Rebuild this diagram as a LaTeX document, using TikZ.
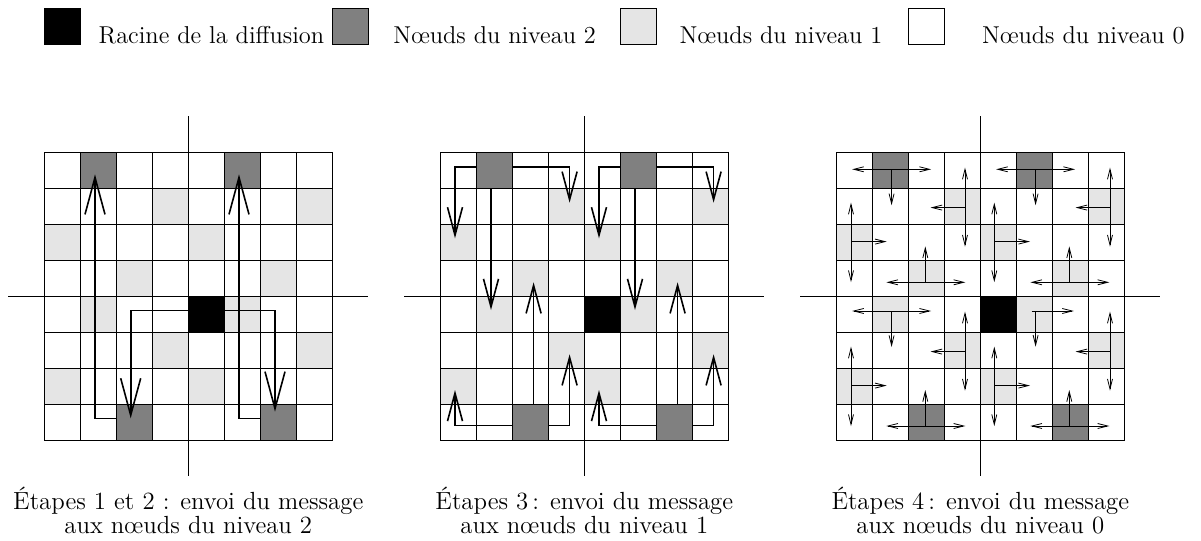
\documentclass[tikz,border=0pt]{standalone}
\usepackage{fontspec}
\usetikzlibrary{arrows.meta}

\definecolor{lvtwo}{gray}{0.5}
\definecolor{lvone}{gray}{0.9}

\tikzset{
  cell/.style={draw, line width=0.5pt, minimum size=18pt, inner sep=0pt, outer sep=0pt, fill=white},
  lvl2/.style={fill=lvtwo},
  lvl1/.style={fill=lvone},
  rootcell/.style={fill=black},
  % level of every marked cell (column-row)
  m-1-0/.style={lvl2}, m-5-0/.style={lvl2}, m-2-7/.style={lvl2}, m-6-7/.style={lvl2},
  m-3-1/.style={lvl1}, m-7-1/.style={lvl1}, m-0-2/.style={lvl1}, m-4-2/.style={lvl1},
  m-2-3/.style={lvl1}, m-6-3/.style={lvl1}, m-1-4/.style={lvl1}, m-5-4/.style={lvl1},
  m-3-5/.style={lvl1}, m-7-5/.style={lvl1}, m-0-6/.style={lvl1}, m-4-6/.style={lvl1},
  m-4-4/.style={rootcell},
  axis/.style={line width=0.8pt},
  arrA/.style={line width=0.8pt, -{Straight Barb[length=18.5pt,width=10pt]}},
  arrB/.style={line width=0.8pt, -{Straight Barb[length=14pt,width=7.5pt]}},
  arrC/.style={line width=0.4pt, -{Straight Barb[length=5pt,width=2.5pt]}},
  arrCC/.style={line width=0.4pt, {Straight Barb[length=5pt,width=2.5pt]}-{Straight Barb[length=5pt,width=2.5pt]}},
  lbl/.style={inner sep=0pt, font=\fontsize{12.2}{12.2}\selectfont},
  caption/.style={inner sep=0pt, align=center, font=\fontsize{12.4}{10.4}\selectfont},
}

\begin{document}
\begin{tikzpicture}[x=0.5pt,y=-0.5pt]
\useasboundingbox (0,0) rectangle (1201,541);

% legend
\node[cell, rootcell] (keyroot) at (62.3,26.5) {};
\node[lbl, anchor=base west] (keyroottxt) at (98.3,43.3) {Racine de la diffusion};
\node[cell, lvl2] (keytwo) at (350,26.5) {};
\node[lbl, anchor=base west] (keytwotxt) at (393,43.3) {Nœuds du niveau 2};
\node[cell, lvl1] (keyone) at (638.9,26.5) {};
\node[lbl, anchor=base west] (keyonetxt) at (679.3,43.3) {Nœuds du niveau 1};
\node[cell] (keyzero) at (926.7,26.5) {};
\node[lbl, anchor=base west] (keyzerotxt) at (981.7,43.3) {Nœuds du niveau 0};

% the three 8x8 grids
\foreach \g/\xo in {A/44.3, B/440.3, C/836.3}
  \foreach \c in {0,...,7}
    \foreach \r in {0,...,7}
      \node[cell, m-\c-\r/.try] (\g-\c-\r) at (\xo+18+36*\c, 170.3+36*\r) {};

% axes through the centre of each grid
\foreach \g in {A,B,C}{
  \draw[axis] ([shift={(0,-36)}]\g-4-0.north west) -- ([shift={(0,36)}]\g-4-7.south west);
  \draw[axis] ([shift={(-36,0)}]\g-0-4.north west) -- ([shift={(36,0)}]\g-7-4.north east);
}

% steps 1 and 2
\draw[arrA] ([shift={(0,-4)}]A-4-4.west) -| ([shift={(-3.6,-4)}]A-2-7.center);
\draw[arrA] ([shift={(0,-4)}]A-4-4.east) -| ([shift={(-3.3,-10.6)}]A-6-7.center);
\draw[arrA] ([shift={(0,-4)}]A-2-7.west) -| ([shift={(-3.3,4)}]A-1-0.center);
\draw[arrA] ([shift={(0,-4)}]A-6-7.west) -| ([shift={(-3.3,4)}]A-5-0.center);

% step 3
\foreach \s in {1,5}{
  \pgfmathtruncatemacro\sl{\s-1}
  \pgfmathtruncatemacro\sr{\s+2}
  \draw[arrB] ([shift={(0,-3.6)}]B-\s-0.west) -| ([shift={(-3.3,-4)}]B-\sl-2.center);
  \draw[arrB] ([shift={(0,-3.6)}]B-\s-0.east) -| ([shift={(3.3,-3.6)}]B-\sr-1.center);
  \draw[arrB] ([shift={(-3.3,0)}]B-\s-0.south) -- ([shift={(-3.3,-4.3)}]B-\s-4.center);
}
\foreach \s in {2,6}{
  \pgfmathtruncatemacro\sl{\s-2}
  \pgfmathtruncatemacro\sr{\s+1}
  \draw[arrB] ([shift={(0,3)}]B-\s-7.west) -| ([shift={(-3.3,3.7)}]B-\sl-6.center);
  \draw[arrB] ([shift={(0,3)}]B-\s-7.east) -| ([shift={(3.3,4)}]B-\sr-5.center);
  \draw[arrB] ([shift={(3.3,0)}]B-\s-7.north) -- ([shift={(3.3,4)}]B-\s-3.center);
}

% step 4: each marked cell sends to its neighbours
% horizontal bar, stem downwards
\foreach \c/\r/\dx/\dy in {1/0/1.3/-1, 5/0/1.3/-1, 1/4/1.3/-3.3}{
  \coordinate (h-\c-\r) at ([shift={(\dx,\dy)}]C-\c-\r.center);
  \draw[arrCC] ([shift={(-39.5,0)}]h-\c-\r) -- ([shift={(39.5,0)}]h-\c-\r);
  \draw[arrC] (h-\c-\r) -- ([shift={(0,36)}]h-\c-\r);
}
% horizontal bar, stem upwards
\foreach \c/\r/\dx/\dy in {2/3/-1/4, 6/3/-1/4, 2/7/-1/3.7, 6/7/-1/3.7}{
  \coordinate (h-\c-\r) at ([shift={(\dx,\dy)}]C-\c-\r.center);
  \draw[arrCC] ([shift={(-39,0)}]h-\c-\r) -- ([shift={(40,0)}]h-\c-\r);
  \draw[arrC] (h-\c-\r) -- ([shift={(0,-36)}]h-\c-\r);
}
% vertical bar, stem to the left
\foreach \c/\r/\dx/\dy in {3/1/2.7/1.3, 7/1/3.7/1.3, 3/5/2.7/1.3, 7/5/3.7/1.3}{
  \coordinate (h-\c-\r) at ([shift={(\dx,\dy)}]C-\c-\r.center);
  \draw[arrCC] ([shift={(0,-40)}]h-\c-\r) -- ([shift={(0,39)}]h-\c-\r);
  \draw[arrC] (h-\c-\r) -- ([shift={(-34.5,0)}]h-\c-\r);
}
% vertical bar, stem to the right
\foreach \c/\r/\dx/\dy in {0/2/-3.3/-0.7, 4/2/-4/-0.7, 0/6/-3.3/-0.7, 4/6/-4/-0.7}{
  \coordinate (h-\c-\r) at ([shift={(\dx,\dy)}]C-\c-\r.center);
  \draw[arrCC] ([shift={(0,-39)}]h-\c-\r) -- ([shift={(0,40.5)}]h-\c-\r);
  \draw[arrC] (h-\c-\r) -- ([shift={(35.7,0)}]h-\c-\r);
}
% next to the root: right and down only
\coordinate (h-5-4) at ([shift={(1.3,-3.3)}]C-5-4.center);
\draw[arrC] ([shift={(-4,0)}]h-5-4) -- ([shift={(38.3,0)}]h-5-4);
\draw[arrC] (h-5-4) -- ([shift={(0,35.7)}]h-5-4);

% captions (base anchor sits on the second line)
\node[caption, anchor=base] (capA) at (188.3,533.5) {Étapes 1 et 2 : envoi du message\\aux nœuds du niveau 2};
\node[caption, anchor=base] (capB) at (584.3,533.5) {Étapes 3\,: envoi du message\\aux nœuds du niveau 1};
\node[caption, anchor=base] (capC) at (980.3,533.5) {Étapes 4\,: envoi du message\\aux nœuds du niveau 0};
\end{tikzpicture}
\end{document}
